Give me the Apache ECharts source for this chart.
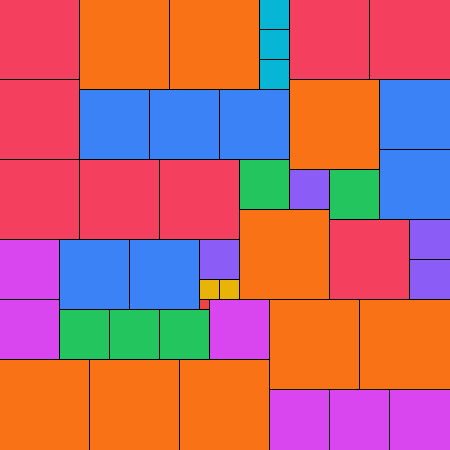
<!DOCTYPE html>
<html>
<head>
<meta charset="utf-8">
<script src="https://cdn.jsdelivr.net/npm/echarts@6/dist/echarts.min.js"></script>
<style>
  html, body { margin: 0; padding: 0; background: #fff; }
  #chart { width: 450px; height: 450px; }
</style>
</head>
<body>
<div id="chart"></div>
<script>
// square tiling, units of 10px: top-left x, top-left y, side
const cellX = [8, 17, 29, 24, 27, 36, 0, 9, 18,
  0, 29, 37, 0, 0, 8, 16, 33,
  8, 15, 22, 38, 38, 6, 13,
  0, 0, 21, 27, 33, 39,
  24, 33, 6, 11, 16,
  29, 41, 41, 20,
  26, 26, 26,
  20, 22,
  20]
const cellY = [0, 0, 8, 21, 30, 30, 36, 36, 36,
  0, 0, 0, 8, 16, 16, 16, 22,
  9, 9, 9, 8, 15, 24, 24,
  24, 30, 30, 39, 39, 39,
  16, 17, 31, 31, 31,
  17, 22, 26, 24,
  0, 3, 6,
  28, 28,
  30]
const cellSize = [9, 9, 9, 9, 9, 9, 9, 9, 9,
  8, 8, 8, 8, 8, 8, 8, 8,
  7, 7, 7, 7, 7, 7, 7,
  6, 6, 6, 6, 6, 6,
  5, 5, 5, 5, 5,
  4, 4, 4, 4,
  3, 3, 3,
  2, 2,
  1]
// colour by side length
const sizeColors = {
  9: '#f97316',
  8: '#f43f5e',
  7: '#3b82f6',
  6: '#d946ef',
  5: '#22c55e',
  4: '#8b5cf6',
  3: '#06b6d4',
  2: '#eab308',
  1: '#ef4444'
}

const chart = echarts.init(document.getElementById('chart'), null, { renderer: 'canvas' })

const data = cellX.map((x, i) => [x, cellY[i], cellSize[i]])

chart.setOption({
  animation: false,
  grid: { left: 0, right: 0, top: 0, bottom: 0 },
  xAxis: { type: 'value', min: 0, max: 45, show: false },
  yAxis: { type: 'value', min: 0, max: 45, inverse: true, show: false },
  series: [{
    type: 'custom',
    data: data,
    renderItem: (params, api) => {
      const s = api.value(2)
      const p = api.coord([api.value(0), api.value(1)])
      const size = api.size([s, s])
      const x0 = Math.round(p[0])
      const y0 = Math.round(p[1])
      const w = Math.round(size[0])
      const h = Math.round(size[1])
      const children = [{
        type: 'rect',
        shape: { x: x0, y: y0, width: w, height: h },
        style: { fill: sizeColors[s] }
      }]
      // only left/top edges, so the outer frame is not drawn
      if (x0 > 0) {
        children.push({
          type: 'line', z2: 10,
          shape: { x1: x0 - 0.5, y1: y0 - 1, x2: x0 - 0.5, y2: y0 + h },
          style: { stroke: '#000', lineWidth: 1 }
        })
      }
      if (y0 > 0) {
        children.push({
          type: 'line', z2: 10,
          shape: { x1: x0 - 1, y1: y0 - 0.5, x2: x0 + w, y2: y0 - 0.5 },
          style: { stroke: '#000', lineWidth: 1 }
        })
      }
      return { type: 'group', children: children }
    }
  }]
})
</script>
</body>
</html>
